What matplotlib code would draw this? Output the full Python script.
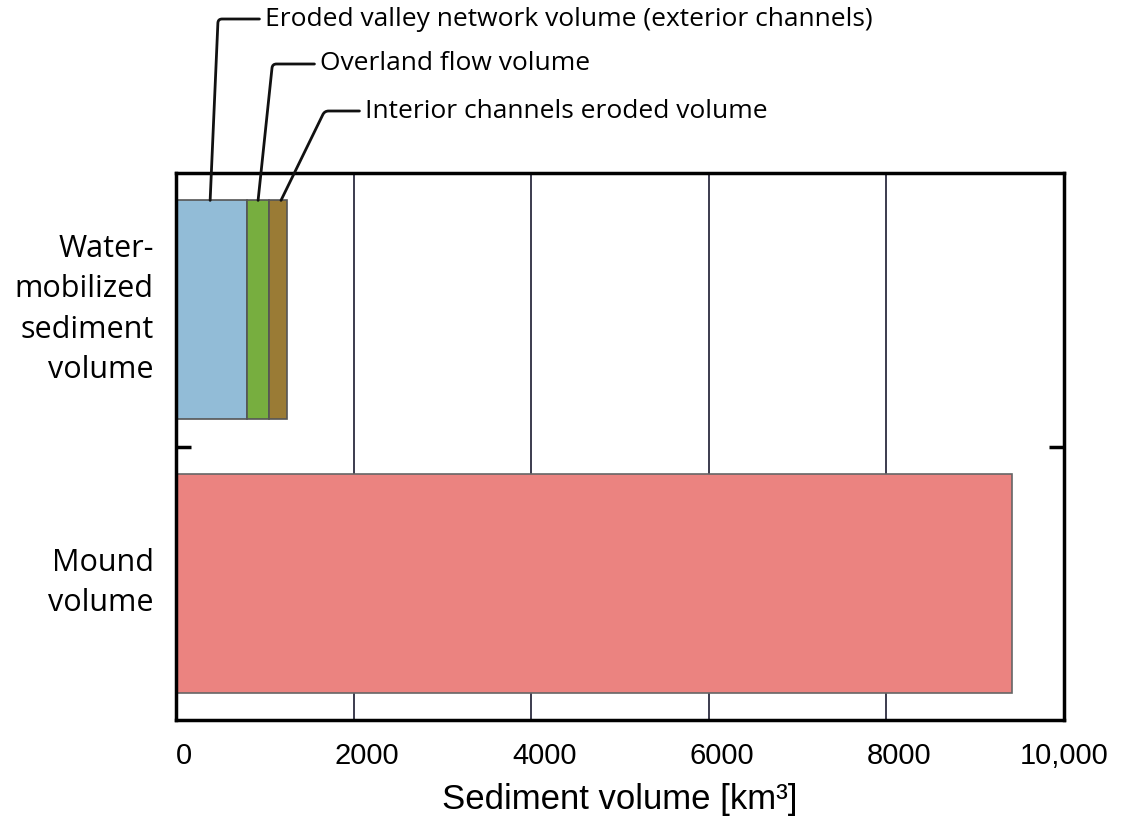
import matplotlib
matplotlib.use("Agg")
from matplotlib import pyplot as plt
from matplotlib.ticker import FixedLocator
from matplotlib.transforms import ScaledTranslation

# data (km^3)
categories = ["Mound\nvolume", "Water-\nmobilized\nsediment\nvolume"]
water_parts = ["Eroded valley network volume (exterior channels)",
               "Overland flow volume",
               "Interior channels eroded volume"]
water_values = [800, 248, 203]
water_colors = ["#92bcd7", "#77ae3f", "#9a7b35"]
mound_value = 9420
mound_color = "#eb8380"
xticks = [0, 2000, 4000, 6000, 8000, 10000]
xtick_labels = ["0", "2000", "4000", "6000", "8000", "10,000"]

label_font = "Open Sans"
num_font = "Liberation Sans"

fig = plt.figure(figsize=(11.22, 8.24), dpi=100)
ax = fig.add_axes([0.1569, 0.1262, 0.7914, 0.6638])

bar_h = 0.8
ax.barh(0, mound_value, height=bar_h, color=mound_color, edgecolor="#666666", linewidth=1.2, zorder=2)

lefts = []
left = 0
for v, c in zip(water_values, water_colors):
    ax.barh(1, v, left=left, height=bar_h, color=c, edgecolor="#555555", linewidth=1.2, zorder=2)
    lefts.append(left)
    left += v

ax.set_xlim(0, 10000)
ax.set_ylim(-0.5, 1.5)
ax.set_axisbelow(True)
ax.grid(axis="x", color="#1a1a30", linewidth=1.2)
ax.grid(axis="y", visible=False)

for s in ax.spines.values():
    s.set_linewidth(2.5)
    s.set_color("black")

ax.set_xticks(xticks)
ax.set_xticklabels(xtick_labels, fontfamily=num_font, fontsize=21)
ax.tick_params(axis="x", length=0, pad=16)
# labels in the original sit a bit right of their gridlines
shifts = [8, 13, 13, 13, 13, 0]
for lab, dx in zip(ax.get_xticklabels(), shifts):
    lab.set_transform(lab.get_transform() + ScaledTranslation(dx / 100, 0, fig.dpi_scale_trans))

ax.set_yticks([0, 1])
ax.set_yticklabels(categories, fontfamily=label_font, fontsize=22, linespacing=1.45, ha="right")
ax.tick_params(axis="y", which="major", length=0, pad=16)
for lab in ax.get_yticklabels():
    lab.set_transform(lab.get_transform() + ScaledTranslation(0, 9 / 100, fig.dpi_scale_trans))
ax.yaxis.set_minor_locator(FixedLocator([0.5]))
ax.tick_params(axis="y", which="minor", direction="in", length=11, width=2.5, left=True, right=True)

ax.set_xlabel("Sediment volume [km³]", fontfamily=num_font, fontsize=25, labelpad=9)

# callout labels above the stacked bar
text_pos = [(265, 805), (320, 760), (365, 713)]
attach_frac = [0.48, 0.5, 0.66]
slant = [87.5, 84, 64]
for i, name in enumerate(water_parts):
    ax.annotate(name,
                xy=(lefts[i] + attach_frac[i] * water_values[i], 1 + bar_h / 2),
                xycoords="data",
                xytext=text_pos[i], textcoords="figure pixels",
                ha="left", va="center", fontfamily=label_font, fontsize=19,
                annotation_clip=False,
                arrowprops=dict(arrowstyle="-", color="#111111", lw=2,
                                shrinkA=2, shrinkB=0,
                                connectionstyle="angle,angleA=0,angleB=%g,rad=4" % slant[i]))

plt.savefig("out.png", dpi=100)
